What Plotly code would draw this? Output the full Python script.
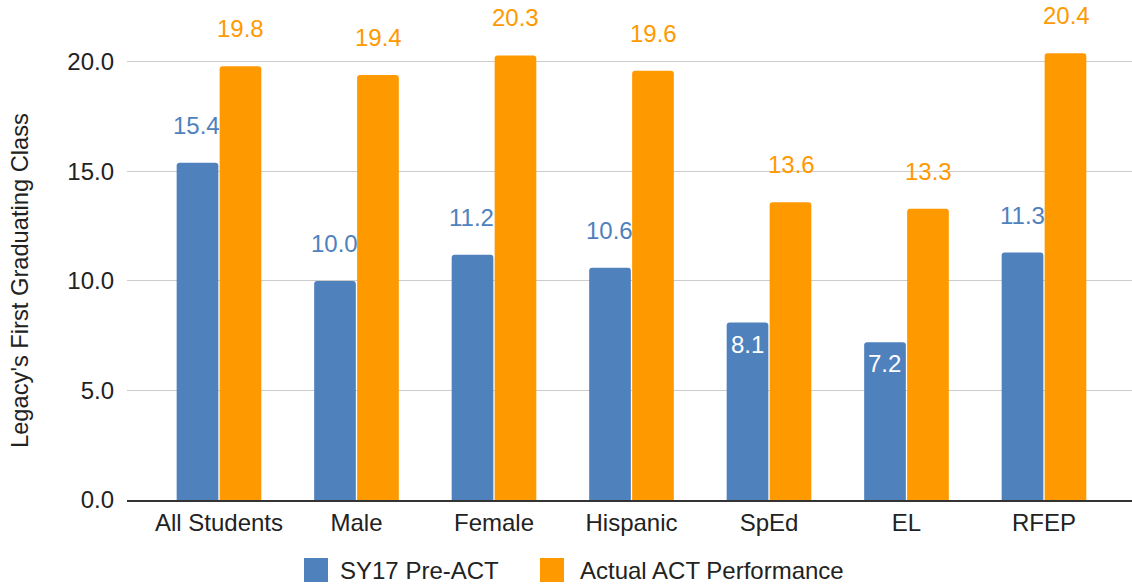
import plotly.graph_objects as go

categories = ["All Students", "Male", "Female", "Hispanic", "SpEd", "EL", "RFEP"]
pre_act = [15.4, 10.0, 11.2, 10.6, 8.1, 7.2, 11.3]
actual_act = [19.8, 19.4, 20.3, 19.6, 13.6, 13.3, 20.4]
series_names = ["SY17 Pre-ACT", "Actual ACT Performance"]
y_title = "Legacy's First Graduating Class"
tick_vals = [0, 5, 10, 15, 20]
tick_text = ["0.0", "5.0", "10.0", "15.0", "20.0"]

BLUE = "#4f81bd"
ORANGE = "#ff9900"
COLORS = [BLUE, ORANGE]
FONT = "Liberation Sans, Arial, sans-serif"
FS = 24

L, R, T, B = 127, 0, 0, 85
W, H = 1132, 585
PW, PH = W - L - R, H - T - B


def px_x(px):
    return (px - L) / PW


def px_y(py):
    return (H - B - py) / PH


fig = go.Figure()
for name, vals, col in zip(series_names, [pre_act, actual_act], COLORS):
    fig.add_trace(go.Bar(x=categories, y=vals, name=name, showlegend=False,
                         marker=dict(color=col, line=dict(width=0))))

annotations = []
for i, c in enumerate(categories):
    v = pre_act[i]
    if v < 9:
        annotations.append(dict(x=c, y=v, xref="x", yref="y", text=f"{v:.1f}",
                                showarrow=False, xshift=-22, yanchor="top", yshift=-6,
                                font=dict(color="white", size=FS, family=FONT)))
    else:
        annotations.append(dict(x=c, y=v, xref="x", yref="y", text=f"{v:.1f}",
                                showarrow=False, xshift=-22, yanchor="bottom", yshift=22,
                                font=dict(color=BLUE, size=FS, family=FONT)))
    w = actual_act[i]
    annotations.append(dict(x=c, y=w, xref="x", yref="y", text=f"{w:.1f}",
                            showarrow=False, xshift=22, yanchor="bottom", yshift=22,
                            font=dict(color=ORANGE, size=FS, family=FONT)))

# y-axis title (centred on the 0-20 chart area like the original)
annotations.append(dict(text=y_title, textangle=-90, xref="paper", yref="paper",
                        x=px_x(20), y=px_y(281), xanchor="center", yanchor="middle",
                        showarrow=False, font=dict(size=23.7, color="#222222", family=FONT)))

# manual legend with large square swatches
shapes = []
leg_sq_x = [304, 540]
leg_tx_x = [338, 578]
for name, col, sx, tx in zip(series_names, COLORS, leg_sq_x, leg_tx_x):
    shapes.append(dict(type="rect", xref="paper", yref="paper",
                       x0=px_x(sx), x1=px_x(sx + 24), y0=px_y(558), y1=px_y(582),
                       fillcolor=col, line=dict(width=0), layer="above"))
    annotations.append(dict(text=name, xref="paper", yref="paper", x=px_x(tx), y=px_y(570),
                            xanchor="left", yanchor="middle", showarrow=False,
                            font=dict(size=FS, color="#222222", family=FONT)))

fig.update_layout(
    width=W, height=H,
    margin=dict(l=L, r=R, t=T, b=B, autoexpand=False),
    paper_bgcolor="white", plot_bgcolor="white",
    barmode="group", bargap=0.375, bargroupgap=0.03,
    barcornerradius=3,
    font=dict(family=FONT, size=FS, color="#222222"),
    showlegend=False,
    annotations=annotations,
    shapes=shapes,
)
fig.update_yaxes(range=[0, 22.83], tickvals=tick_vals, ticktext=tick_text,
                 showgrid=True, gridcolor="#cccccc", gridwidth=1, zeroline=False,
                 ticks="", ticklabelstandoff=12,
                 tickfont=dict(size=FS, color="#222222"))
fig.update_xaxes(range=[-0.669, 6.64], showline=True, linecolor="#333333", linewidth=1.5,
                 ticks="", tickfont=dict(size=FS, color="#222222"))

fig.write_html("out.html")
